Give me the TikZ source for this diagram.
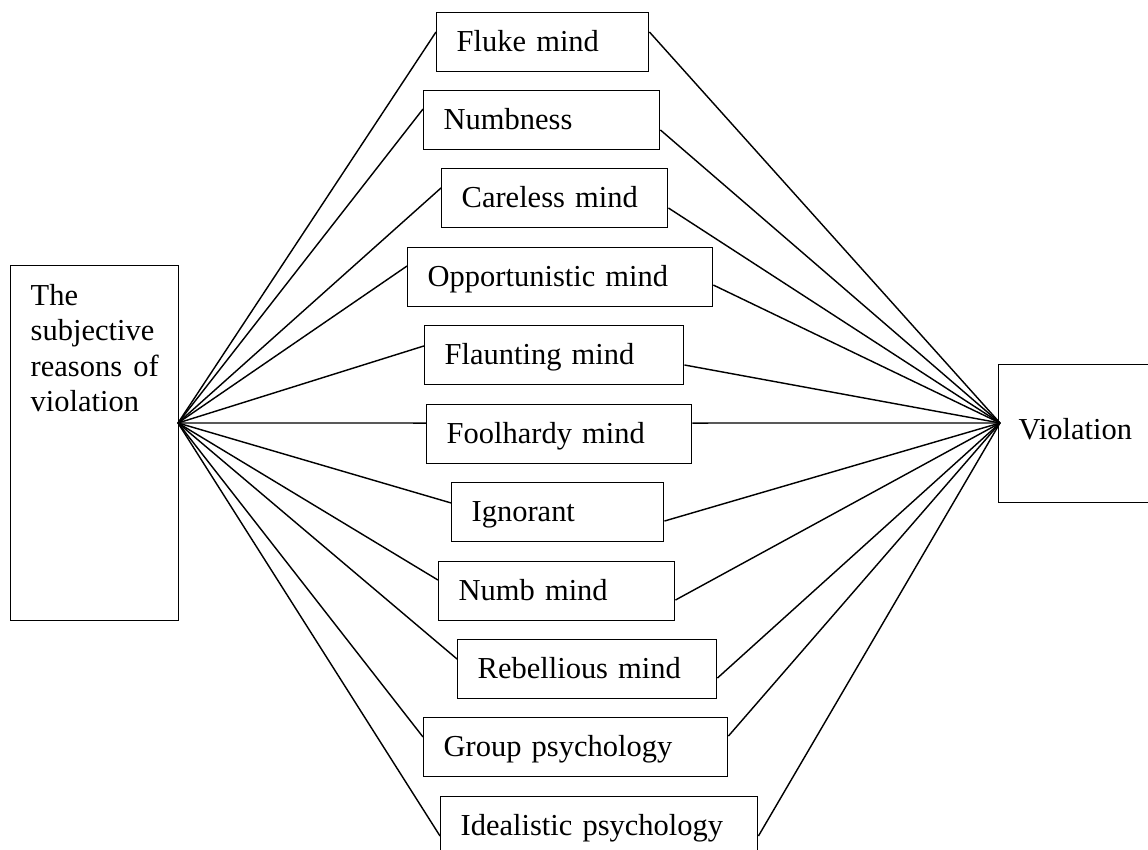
\documentclass[tikz,border=0pt]{standalone}
\usepackage{fontspec}
\setmainfont{Liberation Serif}
\usepackage{tikz}

\tikzset{
  reason/.style={draw, anchor=north west, align=left, inner xsep=8.4pt,
    minimum height=24.78pt, text height=8pt, text depth=0pt},
  link/.style={line width=0.6pt}
}

\begin{document}
\begin{tikzpicture}[x=0.42pt, y=-0.42pt, line width=0.6pt,
  font=\fontsize{12.8}{14.8}\selectfont]
\useasboundingbox (0,0) rectangle (1148,850);
\clip (0,0) rectangle (1148,850);
% left and right boxes
\node (subj) [draw, anchor=north west, align=left, inner xsep=8.4pt, inner ysep=0pt,
  text width=53.76pt, text height=16.8pt, text depth=132.3pt] at (10,265)
  {The\\subjective\\reasons\hfill of\\violation};
\node (viol) [reason, minimum height=57.96pt, text height=4.6pt, text width=70pt] at (998,364) {Violation};
\coordinate (lhub) at (178,423);
\coordinate (rhub) at (1000,423);
% reasons
\node (fluke) [reason, text width=72.24pt] at (436,12) {Fluke mind};
\node (numbness) [reason, text width=82.32pt] at (423,90) {Numbness};
\node (careless) [reason, text width=78.12pt] at (441,168) {Careless mind};
\node (opport) [reason, text width=111.3pt] at (407,247) {Opportunistic mind};
\node (flaunt) [reason, text width=91.98pt] at (424,325) {Flaunting mind};
\node (foolhardy) [reason, text width=94.5pt] at (426,404) {Foolhardy mind};
\node (ignorant) [reason, text width=72.24pt] at (451,482) {Ignorant};
\node (numb) [reason, text width=82.32pt] at (438,561) {Numb mind};
\node (rebel) [reason, text width=91.98pt] at (457,639) {Rebellious mind};
\node (group) [reason, text width=110.88pt] at (423,717) {Group psychology};
\node (ideal) [reason, text width=116.34pt] at (440,796) {Idealistic psychology};
% lines from the left hub
\draw [link] (lhub) -- ([yshift=-8.4pt]fluke.north west);
\draw [link] (lhub) -- ([yshift=-8pt]numbness.north west);
\draw [link] (lhub) -- ([yshift=-8.4pt]careless.north west);
\draw [link] (lhub) -- ([yshift=-8pt]opport.north west);
\draw [link] (lhub) -- ([yshift=-8.8pt]flaunt.north west);
\draw [link] (lhub) -- ([yshift=-8pt]foolhardy.north west);
\draw [link] (lhub) -- ([yshift=-8.8pt]ignorant.north west);
\draw [link] (lhub) -- ([yshift=-8pt]numb.north west);
\draw [link] (lhub) -- ([yshift=-8.4pt]rebel.north west);
\draw [link] (lhub) -- ([yshift=-8.4pt]group.north west);
\draw [link] (lhub) -- ([yshift=-16.8pt]ideal.north west);
% lines to the right hub
\draw [link] ([yshift=-8.4pt]fluke.north east) -- (rhub);
\draw [link] ([yshift=-16.8pt]numbness.north east) -- (rhub);
\draw [link] ([yshift=-16.8pt]careless.north east) -- (rhub);
\draw [link] ([yshift=-16pt]opport.north east) -- (rhub);
\draw [link] ([yshift=-16.8pt]flaunt.north east) -- (rhub);
\draw [link] ([yshift=-8pt]foolhardy.north east) -- (rhub);
\draw [link] ([yshift=-16.4pt]ignorant.north east) -- (rhub);
\draw [link] ([yshift=-16.4pt]numb.north east) -- (rhub);
\draw [link] ([yshift=-16.4pt]rebel.north east) -- (rhub);
\draw [link] ([yshift=-8pt]group.north east) -- (rhub);
\draw [link] ([yshift=-16.8pt]ideal.north east) -- (rhub);
\end{tikzpicture}
\end{document}
